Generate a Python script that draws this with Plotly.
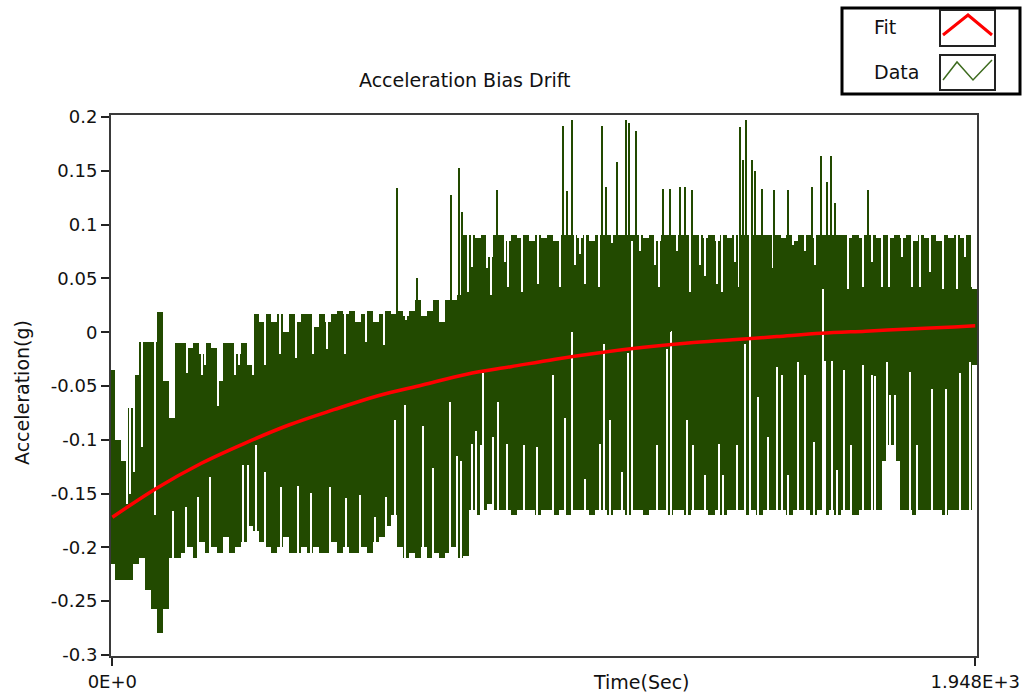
import plotly.graph_objects as go

# ---------------- data ----------------
T_END = 1948.0

# upper / lower envelope of the sampled signal, one pair per ~13.5 s
data_top = [
    -0.035, -0.10, -0.12, -0.07, -0.04, -0.009, -0.009, -0.009, 0.019, -0.045,
    -0.08, -0.01, -0.01, -0.015, -0.01, -0.02, -0.01, -0.015, -0.045, -0.01,
    -0.01, -0.02, -0.01, -0.03, 0.017, 0.01, 0.017, 0.01, 0.017, 0.0,
    0.017, 0.01, 0.017, 0.017, 0.005, 0.017, 0.01, 0.017, 0.02, 0.017,
    0.02, 0.01, 0.017, 0.02, 0.01, 0.017, 0.02, 0.017, 0.02, 0.015,
    0.02, 0.03, 0.015, 0.02, 0.03, 0.01, 0.03, 0.03, 0.035, 0.09,
    0.09, 0.088, 0.09, 0.07, 0.09, 0.09, 0.085, 0.09, 0.088, 0.09,
    0.085, 0.09, 0.088, 0.09, 0.085, 0.09, 0.09, 0.09, 0.088, 0.09,
    0.085, 0.09, 0.09, 0.09, 0.09, 0.09, 0.09, 0.09, 0.09, 0.088,
    0.09, 0.085, 0.09, 0.09, 0.09, 0.09, 0.09, 0.09, 0.09, 0.088,
    0.09, 0.085, 0.09, 0.088, 0.09, 0.09, 0.09, 0.09, 0.09, 0.09,
    0.09, 0.09, 0.088, 0.09, 0.085, 0.09, 0.09, 0.088, 0.09, 0.09,
    0.09, 0.09, 0.09, 0.088, 0.09, 0.088, 0.09, 0.09, 0.088, 0.09,
    0.088, 0.09, 0.088, 0.09, 0.085, 0.09, 0.088, 0.09, 0.085, 0.09,
    0.088, 0.09, 0.088, 0.09, 0.04,
]
data_bottom = [
    -0.215, -0.23, -0.23, -0.23, -0.215, -0.21, -0.24, -0.257, -0.28, -0.257,
    -0.21, -0.21, -0.205, -0.20, -0.21, -0.195, -0.205, -0.20, -0.205, -0.19,
    -0.205, -0.20, -0.195, -0.18, -0.185, -0.195, -0.20, -0.205, -0.20, -0.19,
    -0.205, -0.205, -0.20, -0.205, -0.20, -0.205, -0.205, -0.195, -0.205, -0.20,
    -0.205, -0.205, -0.20, -0.205, -0.195, -0.19, -0.18, -0.17, -0.20, -0.21,
    -0.205, -0.21, -0.20, -0.21, -0.205, -0.21, -0.205, -0.20, -0.21, -0.208,
    -0.165, -0.17, -0.165, -0.16, -0.165, -0.165, -0.165, -0.17, -0.165, -0.165,
    -0.165, -0.17, -0.165, -0.165, -0.17, -0.165, -0.17, -0.165, -0.165, -0.165,
    -0.17, -0.165, -0.165, -0.17, -0.165, -0.165, -0.17, -0.165, -0.165, -0.17,
    -0.165, -0.165, -0.165, -0.17, -0.165, -0.165, -0.17, -0.165, -0.165, -0.165,
    -0.17, -0.165, -0.17, -0.165, -0.165, -0.165, -0.17, -0.165, -0.17, -0.165,
    -0.165, -0.165, -0.165, -0.17, -0.165, -0.165, -0.165, -0.17, -0.165, -0.17,
    -0.165, -0.17, -0.165, -0.165, -0.17, -0.165, -0.165, -0.165, -0.165, -0.12,
    -0.105, -0.12, -0.165, -0.165, -0.17, -0.165, -0.165, -0.165, -0.165, -0.17,
    -0.165, -0.165, -0.165, -0.165, -0.03,
]

# isolated upward spikes of the signal (time in s, peak in g)
spike_time = [643, 688, 765, 783, 790, 869, 1018, 1027, 1038, 1106, 1115, 1140,
              1160, 1167, 1183, 1243, 1259, 1283, 1293, 1309, 1417, 1425, 1431,
              1445, 1452, 1468, 1494, 1525, 1580, 1600, 1613, 1622, 1633, 1707]
spike_peak = [0.134, 0.05, 0.128, 0.153, 0.112, 0.132, 0.192, 0.131, 0.197, 0.192, 0.135, 0.158,
              0.197, 0.195, 0.187, 0.133, 0.133, 0.135, 0.135, 0.132, 0.191, 0.16, 0.197,
              0.16, 0.15, 0.133, 0.132, 0.132, 0.135, 0.164, 0.14, 0.164, 0.12, 0.132]

# isolated low samples below the upper envelope (time in s, value in g)
top_dip_time = [33, 40, 49, 67, 96, 170, 202, 209, 238, 277, 286, 317, 344, 378, 414,
                453, 484, 525, 572,
                613, 663, 803, 812, 846, 855, 886, 893, 925, 961, 1011, 1045, 1056,
                1067, 1099, 1128, 1191, 1225, 1234, 1275, 1304, 1327, 1338, 1365,
                1377, 1406, 1415, 1492, 1537, 1564, 1587, 1661, 1695, 1715, 1738,
                1754, 1783, 1806, 1824, 1846, 1876, 1907, 1925, 1941]
top_dip_value = [-0.16, -0.15, -0.13, -0.107, -0.17, -0.038, -0.04, -0.03, -0.069, -0.04,
                 -0.03, -0.04, -0.03, -0.02, -0.024,
                 -0.02, -0.016, -0.02, -0.009, -0.012, 0.011, 0.037, 0.061, 0.06, 0.035,
                 0.065, 0.042, 0.037, 0.045, 0.042, 0.063, 0.073, 0.045, 0.042, 0.083,
                 0.076, 0.063, 0.042, 0.076, 0.037, 0.063, 0.052, 0.045, 0.037, 0.065,
                 0.042, 0.06, 0.081, 0.076, 0.063, 0.04, 0.042, 0.065, 0.042, 0.042,
                 0.07, 0.042, 0.042, 0.056, 0.04, 0.04, 0.07, 0.042]

# isolated high samples above the lower envelope (time in s, value in g)
bottom_dip_time = [137, 166, 193, 220, 295, 306, 324, 344, 381, 419, 448, 491, 527, 559,
                   593, 618, 638, 661, 701, 724, 762, 778, 787, 812, 821, 832, 837, 859,
                   871, 891, 929, 959, 995, 1022, 1038, 1067, 1101, 1110, 1124, 1151,
                   1165, 1173, 1230, 1253, 1262, 1298, 1311, 1338, 1370, 1379, 1410,
                   1428, 1440, 1458, 1480, 1501, 1512, 1526, 1548, 1564, 1584, 1605,
                   1609, 1625, 1636, 1652, 1668, 1695, 1715, 1723, 1749, 1756, 1768,
                   1801, 1817, 1851, 1883, 1915, 1936]
bottom_dip_value = [-0.166, -0.162, -0.153, -0.135, -0.123, -0.123, -0.105, -0.13, -0.144,
                    -0.143, -0.149, -0.144, -0.154, -0.151, -0.172, -0.153, -0.082, -0.068,
                    -0.087, -0.126, -0.065, -0.115, -0.12, -0.104, -0.092, -0.105, -0.038,
                    -0.097, -0.065, -0.104, -0.105, -0.107, -0.04, -0.08, 0.03, -0.136,
                    -0.104, -0.011, -0.082, -0.13, -0.019, 0.085, -0.105, -0.016, 0.001,
                    -0.082, -0.105, -0.133, -0.104, -0.133, -0.105, -0.011, 0.1, -0.06,
                    -0.097, -0.032, -0.04, -0.133, -0.028, -0.04, -0.102, 0.04, -0.027,
                    -0.027, -0.128, -0.035, -0.105, -0.03, -0.04, -0.041, -0.028, -0.058,
                    -0.058, -0.037, -0.105, -0.053, -0.053, -0.038, -0.028]

# exponential fit curve
fit_time = [0, 100, 200, 300, 400, 500, 600, 700, 800, 900, 1000, 1100, 1200,
            1300, 1400, 1500, 1600, 1700, 1800, 1900, 1948]
fit_value = [-0.172, -0.145, -0.122, -0.103, -0.086, -0.072, -0.059, -0.049, -0.039,
             -0.032, -0.025, -0.019, -0.014, -0.010, -0.007, -0.004, -0.001, 0.001,
             0.003, 0.005, 0.006]

y_tick_vals = [0.2, 0.15, 0.1, 0.05, 0, -0.05, -0.1, -0.15, -0.2, -0.25, -0.3]
y_tick_text = ["0.2", "0.15", "0.1", "0.05", "0", "-0.05", "-0.1", "-0.15", "-0.2", "-0.25", "-0.3"]
x_tick_vals = [0, T_END]
x_tick_text = ["0E+0", "1.948E+3"]

# ---------------- styling ----------------
GREEN = "#224A00"
RED = "#FF0000"
FONT = "DejaVu Sans"
Y_MIN, Y_MAX = -0.301, 0.202

W, H = 1025, 700
L, R, T, B = 111, 977, 115, 656


def px(x):
    return (x - L) / (R - L)


def py(y):
    return (B - y) / (B - T)


n = len(data_top)
step = T_END / (n - 1)
sample_time = [i * step for i in range(n)]
band_height = [t - b for t, b in zip(data_top, data_bottom)]

fig = go.Figure()
# envelope of the dense signal
fig.add_trace(go.Bar(x=sample_time, y=band_height, base=data_bottom,
                     width=step * 1.04, marker=dict(color=GREEN, line=dict(width=0)),
                     showlegend=False, hoverinfo="skip"))
# samples that fall short of the envelope leave thin white gaps
fig.add_trace(go.Bar(x=top_dip_time, y=[Y_MAX + 0.02 - v for v in top_dip_value],
                     base=top_dip_value, width=3.0,
                     marker=dict(color="white", line=dict(width=0)),
                     showlegend=False, hoverinfo="skip"))
fig.add_trace(go.Bar(x=bottom_dip_time, y=[v - (Y_MIN - 0.02) for v in bottom_dip_value],
                     base=[Y_MIN - 0.02] * len(bottom_dip_time), width=3.0,
                     marker=dict(color="white", line=dict(width=0)),
                     showlegend=False, hoverinfo="skip"))
# spikes
fig.add_trace(go.Bar(x=spike_time, y=spike_peak, base=[0] * len(spike_time),
                     width=3.5, marker=dict(color=GREEN, line=dict(width=0)),
                     showlegend=False, hoverinfo="skip"))
# fit
fig.add_trace(go.Scatter(x=fit_time, y=fit_value, mode="lines",
                         line=dict(color=RED, width=3.5, shape="spline"),
                         showlegend=False, hoverinfo="skip"))

axis_common = dict(showgrid=False, zeroline=False, showline=True, linecolor="#3a3a3a",
                   linewidth=2, mirror=True, ticks="outside", ticklen=8, tickwidth=1.5,
                   tickcolor="#222", automargin=False,
                   tickfont=dict(family=FONT, size=18, color="#111"))

fig.update_xaxes(range=[-3, 1952], tickmode="array", tickvals=x_tick_vals,
                 ticktext=x_tick_text, ticklabelstandoff=0, **axis_common)
fig.update_yaxes(range=[Y_MIN, Y_MAX], tickmode="array", tickvals=y_tick_vals,
                 ticktext=y_tick_text, **axis_common)

annotations = [
    dict(text="Acceleration Bias Drift", x=px(465), y=py(80), xref="paper", yref="paper",
         showarrow=False, xanchor="center", yanchor="middle",
         font=dict(family=FONT, size=19, color="#111")),
    dict(text="Time(Sec)", x=px(641), y=py(682), xref="paper", yref="paper",
         showarrow=False, xanchor="center", yanchor="middle",
         font=dict(family=FONT, size=19, color="#111")),
    dict(text="Acceleration(g)", x=px(22), y=py(393), xref="paper", yref="paper",
         showarrow=False, xanchor="center", yanchor="middle", textangle=-90,
         font=dict(family=FONT, size=19, color="#111")),
    dict(text="Fit", x=px(872), y=py(27), xref="paper", yref="paper",
         showarrow=False, xanchor="left", yanchor="middle",
         font=dict(family=FONT, size=19, color="#111")),
    dict(text="Data", x=px(872), y=py(72), xref="paper", yref="paper",
         showarrow=False, xanchor="left", yanchor="middle",
         font=dict(family=FONT, size=19, color="#111")),
]

shapes = [
    # legend frame
    dict(type="rect", xref="paper", yref="paper", x0=px(842), x1=px(1020), y0=py(94), y1=py(8),
         line=dict(color="black", width=3), fillcolor="white", layer="above"),
    dict(type="rect", xref="paper", yref="paper", x0=px(940), x1=px(995), y0=py(46), y1=py(10),
         line=dict(color="#222", width=2), layer="above"),
    dict(type="rect", xref="paper", yref="paper", x0=px(940), x1=px(995), y0=py(90), y1=py(55),
         line=dict(color="#222", width=2), layer="above"),
    dict(type="path", xref="paper", yref="paper",
         path=f"M {px(943)},{py(35)} L {px(968)},{py(15)} L {px(992)},{py(35)}",
         line=dict(color=RED, width=3), layer="above"),
    dict(type="path", xref="paper", yref="paper",
         path=f"M {px(943)},{py(80)} L {px(957)},{py(62)} L {px(973)},{py(80)} L {px(992)},{py(60)}",
         line=dict(color="#3d6b1e", width=1.5), layer="above"),
]

fig.update_layout(width=W, height=H, margin=dict(l=L, r=W - R, t=T, b=H - B),
                  paper_bgcolor="white", plot_bgcolor="white", barmode="overlay",
                  bargap=0, showlegend=False, annotations=annotations, shapes=shapes)

fig.write_html("out.html")
